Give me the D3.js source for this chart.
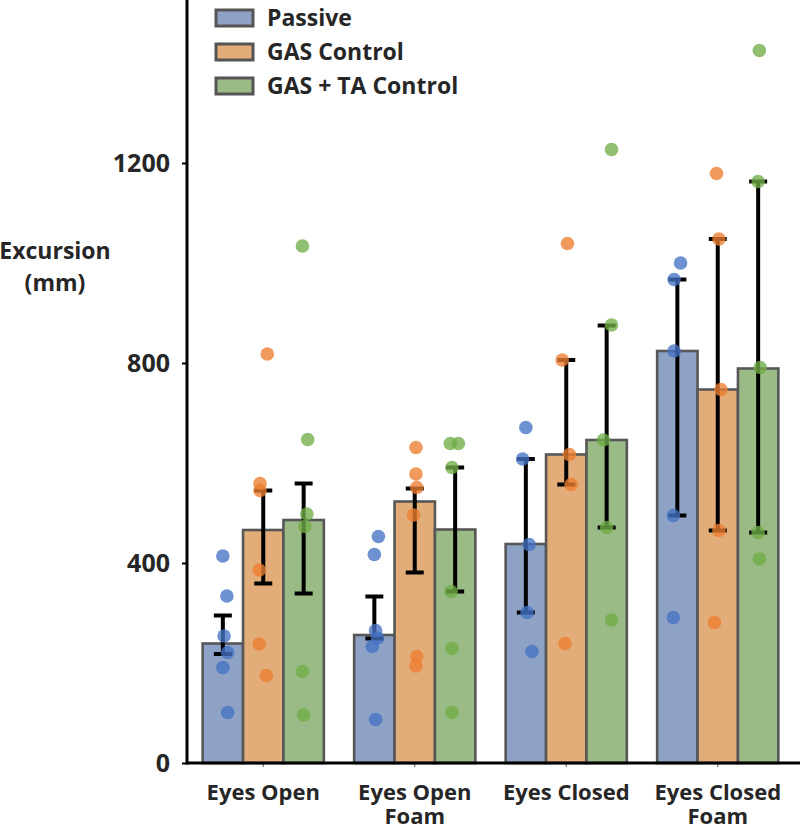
<!DOCTYPE html>
<html>
<head>
<meta charset="utf-8">
<script src="https://cdn.jsdelivr.net/npm/d3@7"></script>
<style>
  body { margin: 0; background: #fff; }
  text { font-family: "Open Sans", "DejaVu Sans", sans-serif; font-weight: bold; fill: #262626; }
</style>
</head>
<body>
<script>
var W = 800, H = 829;

// data
var categories = ["Eyes Open", "Eyes Open Foam", "Eyes Closed", "Eyes Closed Foam"];
var catLines = [["Eyes Open"], ["Eyes Open", "Foam"], ["Eyes Closed"], ["Eyes Closed", "Foam"]];
var seriesNames = ["Passive", "GAS Control", "GAS + TA Control"];
var yTicks = [0, 400, 800, 1200];

var passiveMean = [239, 256, 438, 824];
var gasMean     = [466, 523, 617, 747];
var gasTaMean   = [486, 467, 646, 789];

var passiveLow  = [218, 249, 301, 495];
var passiveHigh = [295, 333, 608, 967];
var gasLow      = [359, 381, 557, 465];
var gasHigh     = [545, 549, 806, 1048];
var gasTaLow    = [339, 343, 471, 461];
var gasTaHigh   = [559, 591, 875, 1163];

var passivePts = [[414, 334, 254, 221, 191, 101], [453, 417, 265, 250, 233, 87], [671, 608, 437, 301, 223], [1000, 967, 824, 495, 291]];
var gasPts     = [[818, 559, 545, 386, 238, 175], [631, 578, 551, 496, 213, 194], [1039, 806, 617, 557, 239], [1179, 1048, 747, 465, 281]];
var gasTaPts   = [[1034, 647, 498, 473, 183, 96], [639, 639, 591, 343, 229, 101], [1227, 876, 646, 471, 286], [1425, 1163, 791, 461, 408]];

// small horizontal jitter of the dots, as a share of bar width
var passiveJit = [[0, .1, .03, .12, 0, .12], [.1, 0, .03, .08, -.05, .03], [0, -.08, .08, .03, .15], [.08, -.08, -.08, -.1, -.1]];
var gasJit     = [[.1, -.08, -.08, -.1, -.1, .08], [.03, .03, .05, -.03, .05, .03], [.03, -.1, .08, .12, -.03], [-.03, .03, .08, .03, -.08]];
var gasTaJit   = [[-.03, .1, .08, .03, -.03, 0], [-.12, .08, -.08, -.1, -.08, -.08], [.12, .12, -.08, 0, .12], [.03, 0, .05, 0, .03]];

var barColors = ["#8ea2c5", "#e2ad79", "#9aba86"];
var dotColors = ["#4472c4", "#ed7d31", "#70ad47"];

var series = [
  { name: seriesNames[0], mean: passiveMean, low: passiveLow, high: passiveHigh, pts: passivePts, jit: passiveJit },
  { name: seriesNames[1], mean: gasMean, low: gasLow, high: gasHigh, pts: gasPts, jit: gasJit },
  { name: seriesNames[2], mean: gasTaMean, low: gasTaLow, high: gasTaHigh, pts: gasTaPts, jit: gasTaJit }
];

var axisX = 187, baseY = 763;

var svg = d3.select("body").append("svg")
    .attr("width", W)
    .attr("height", H);

var x0 = d3.scaleBand().domain(categories)
    .range([187.5, 793.5])
    .paddingInner(0.2)
    .paddingOuter(0.1);
var x1 = d3.scaleBand().domain(seriesNames)
    .range([0, x0.bandwidth()]);
var y = d3.scaleLinear().domain([0, 1526]).range([baseY, 0]);

var groups = svg.selectAll("g.grp").data(categories).enter().append("g")
    .attr("class", "grp")
    .attr("transform", function(d) { return "translate(" + x0(d) + ",0)"; });

// bars
series.forEach(function(s, si) {
  groups.append("rect")
      .attr("x", x1(s.name))
      .attr("width", x1.bandwidth())
      .attr("y", function(d, i) { return y(s.mean[i]); })
      .attr("height", function(d, i) { return baseY - y(s.mean[i]); })
      .style("fill", barColors[si])
      .style("stroke", "#575757")
      .style("stroke-width", "2.6px");
});

// error bars
series.forEach(function(s) {
  var cx = x1(s.name) + x1.bandwidth() / 2;
  groups.append("line")
      .attr("x1", cx).attr("x2", cx)
      .attr("y1", function(d, i) { return y(s.high[i]); })
      .attr("y2", function(d, i) { return y(s.low[i]); })
      .style("stroke", "#000").style("stroke-width", "4px");
  ["high", "low"].forEach(function(k) {
    groups.append("line")
        .attr("x1", cx - 9).attr("x2", cx + 9)
        .attr("y1", function(d, i) { return y(s[k][i]); })
        .attr("y2", function(d, i) { return y(s[k][i]); })
        .style("stroke", "#000").style("stroke-width", "4px");
  });
});

// dots
series.forEach(function(s, si) {
  groups.each(function(d, i) {
    var bw = x1.bandwidth();
    d3.select(this).selectAll("circle.s" + si)
        .data(s.pts[i]).enter().append("circle")
        .attr("class", "s" + si)
        .attr("cx", function(v, j) { return x1(s.name) + bw / 2 + s.jit[i][j] * bw; })
        .attr("cy", function(v) { return y(v); })
        .attr("r", 6.8)
        .style("fill", dotColors[si])
        .style("fill-opacity", 0.78);
  });
});

// y axis
var yAxis = svg.append("g")
    .attr("transform", "translate(" + axisX + ",0)")
    .call(d3.axisLeft(y).tickValues(yTicks).tickSize(5).tickPadding(12).tickFormat(d3.format("d")));
yAxis.select(".domain").remove();
yAxis.selectAll(".tick line").style("stroke", "#000").style("stroke-width", "2px");
yAxis.selectAll("text").style("font-size", "25px").style("font-family", "'Open Sans', sans-serif").attr("fill", "#262626");

svg.append("line")
    .attr("x1", axisX).attr("x2", axisX)
    .attr("y1", 0).attr("y2", baseY + 1.5)
    .style("stroke", "#000").style("stroke-width", "3px");

// x axis
svg.append("line")
    .attr("x1", axisX).attr("x2", W)
    .attr("y1", baseY).attr("y2", baseY)
    .style("stroke", "#000").style("stroke-width", "3px");

groups.append("line")
    .attr("x1", x0.bandwidth() / 2).attr("x2", x0.bandwidth() / 2)
    .attr("y1", baseY).attr("y2", baseY + 4)
    .style("stroke", "#555").style("stroke-width", "1px");

groups.append("text")
    .attr("x", x0.bandwidth() / 2)
    .attr("y", 800)
    .attr("text-anchor", "middle")
    .style("font-size", "22px")
    .selectAll("tspan")
    .data(function(d, i) { return catLines[i]; })
    .enter().append("tspan")
    .attr("x", x0.bandwidth() / 2)
    .attr("dy", function(d, j) { return j === 0 ? 0 : 24; })
    .text(function(d) { return d; });

// y title
svg.append("text")
    .attr("x", 55).attr("y", 259)
    .attr("text-anchor", "middle")
    .style("font-size", "23px")
    .text("Excursion");
svg.append("text")
    .attr("x", 55).attr("y", 291)
    .attr("text-anchor", "middle")
    .style("font-size", "23px")
    .text("(mm)");

// legend
var legend = svg.selectAll("g.leg").data(seriesNames).enter().append("g")
    .attr("class", "leg")
    .attr("transform", function(d, i) { return "translate(216," + (10 + i * 34) + ")"; });
legend.append("rect")
    .attr("width", 37).attr("height", 16)
    .style("fill", function(d, i) { return barColors[i]; })
    .style("stroke", "#555")
    .style("stroke-width", "3px");
legend.append("text")
    .attr("x", 51).attr("y", 8)
    .attr("dy", "0.35em")
    .style("font-size", "23px")
    .text(function(d) { return d; });
</script>
</body>
</html>
